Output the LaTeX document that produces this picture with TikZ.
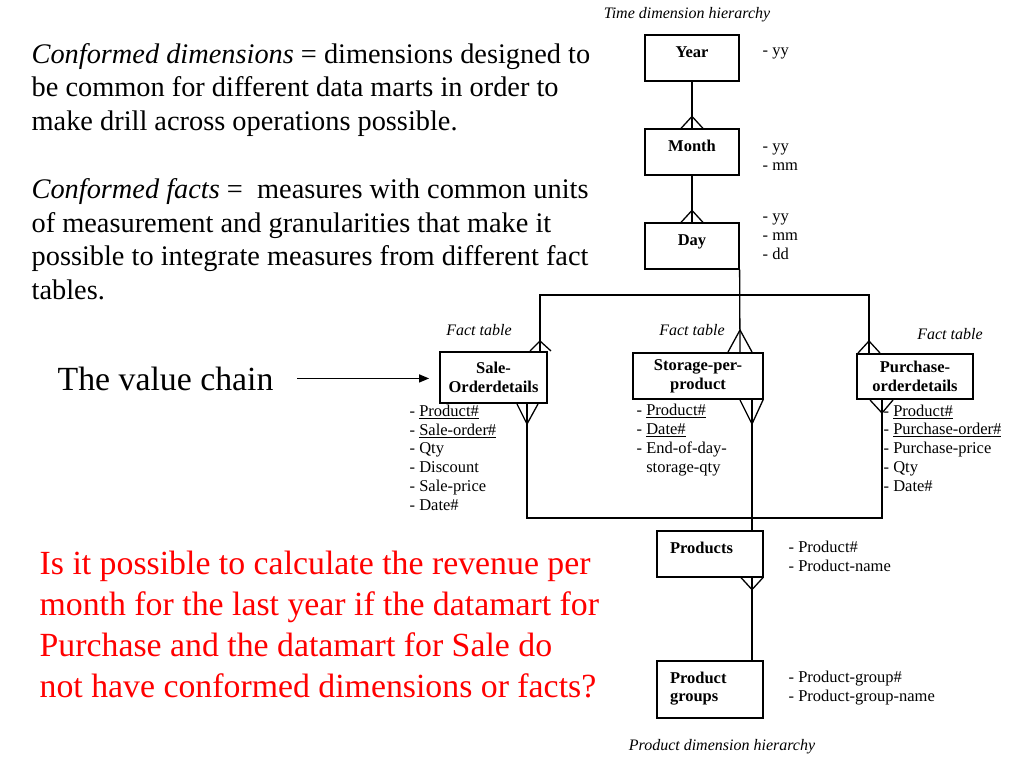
\documentclass[tikz,border=0pt]{standalone}
\usepackage{fontspec}
\setmainfont{Liberation Serif}
\usetikzlibrary{arrows}

\begin{document}
\begin{tikzpicture}[x=1pt,y=-1pt,node distance=94pt,>=stealth',line width=1.3pt]

  \tikzstyle{dimension}=[rectangle,draw=black,line width=1.2pt,minimum width=94pt,minimum height=46pt,text height=11pt,text depth=13pt,font=\fontsize{16.5}{18.7}\selectfont\bfseries]
  \tikzstyle{product}=[rectangle,draw=black,line width=1.2pt,text width=80pt,inner xsep=13pt,align=left,text height=11pt,font=\fontsize{16.5}{18.7}\selectfont\bfseries]
  \tikzstyle{fact}=[rectangle,draw=black,line width=2pt,align=center,font=\fontsize{16.5}{18.7}\selectfont\bfseries]
  \tikzstyle{attr}=[anchor=base west,inner sep=0pt,align=left,font=\fontsize{16.5}{18.7}\selectfont]
  \tikzstyle{caption}=[inner sep=0pt,font=\fontsize{16}{18}\selectfont\itshape]
  \tikzstyle{bigtext}=[anchor=base west,inner sep=0pt,align=left]

  \useasboundingbox (0,0) rectangle (1024,768);

  % left column (placed at the baseline of the last line)
  \node [bigtext,font=\fontsize{28.35}{33.5}\selectfont] (confdim) at (31,130)
    {\textit{Conformed dimensions} = dimensions designed to\\be common for different data marts in order to\\make drill across operations possible.};
  \node [bigtext,font=\fontsize{28.35}{33.5}\selectfont] (conffact) at (31,299)
    {\textit{Conformed facts} =~ measures with common units\\of measurement and granularities that make it\\possible to integrate measures from different fact\\tables.};
  \node [bigtext,font=\fontsize{33.8}{40}\selectfont] (chain) at (57,390) {The value chain};
  \node [bigtext,text=red,font=\fontsize{33.8}{40.7}\selectfont] (question) at (39,697)
    {Is it possible to calculate the revenue per\\month for the last year if the datamart for\\Purchase and the datamart for Sale do\\not have conformed dimensions or facts?};

  % time dimension
  \node [caption] (timecap) at (687,15) {Time dimension hierarchy};
  \node [dimension] (year) at (692,58) {Year};
  \node [dimension] (month) [below of=year] {Month};
  \node [dimension] (day) [below of=month] {Day};
  \node [attr] (yearattr) at (762,56) {- yy};
  \node [attr] (monthattr) at (762,170) {- yy\\- mm};
  \node [attr] (dayattr) at (762,259) {- yy\\- mm\\- dd};

  % fact tables
  \node [caption] (salecap) at (479,330) {Fact table};
  \node [caption] (storcap) at (692,330) {Fact table};
  \node [caption] (purchcap) at (950,334) {Fact table};
  \node [fact,minimum width=107pt,minimum height=51pt] (sale) at (493.5,377.5) {Sale-\\Orderdetails};
  \node [fact,minimum width=130pt,minimum height=46pt] (storage) at (698,376) {Storage-per-\\product};
  \node [fact,minimum width=116pt,minimum height=45pt] (purchase) at (915,376.5) {Purchase-\\orderdetails};
  \node [attr] (saleattr) at (409,510)
    {- \underline{Product\#}\\- \underline{Sale-order\#}\\- Qty\\- Discount\\- Sale-price\\- Date\#};
  \node [attr] (storattr) at (636,472)
    {- \underline{Product\#}\\- \underline{Date\#}\\- End-of-day-\\\hphantom{- }storage-qty};
  \node [attr] (purchattr) at (883,491)
    {- \underline{Product\#}\\- \underline{Purchase-order\#}\\- Purchase-price\\- Qty\\- Date\#};

  % product dimension
  \node [product,minimum height=46pt,text depth=13pt] (products) at (710,554) {Products};
  \node [product,minimum height=57pt,text depth=24pt] (groups) [below of=products,node distance=135.5pt] {Product\\groups};
  \node [attr] (prodattr) at (788,571) {- Product\#\\- Product-name};
  \node [attr] (groupattr) at (788,701) {- Product-group\#\\- Product-group-name};
  \node [caption] (prodcap) at (722,747) {Product dimension hierarchy};

  \coordinate (timehub) at (740,295);
  \coordinate (prodhub) at (752,518);
  \coordinate (saletop) at ([xshift=-8pt]sale.north east);
  \coordinate (stortop) at (timehub |- storage.north);
  \coordinate (purchtop) at ([xshift=13pt]purchase.north west);
  \coordinate (salebot) at ([xshift=-21pt]sale.south east);
  \coordinate (storbot) at ([xshift=-12pt]storage.south east);
  \coordinate (purchbot) at ([xshift=26pt]purchase.south west);
  \coordinate (prodfoot) at (storbot |- products.south);

  % time hierarchy
  \draw (year) -- (month);
  \draw ([xshift=-11pt]month.north) -- ++(11,-12) -- ++(11,12);
  \draw (month) -- (day);
  \draw ([xshift=-11pt]day.north) -- ++(11,-12) -- ++(11,12);
  \draw (day.south east) -- (stortop);
  \draw (saletop) |- (timehub) -| (purchtop);
  \draw ([xshift=-10pt]saletop) -- ++(10,-10) -- ++(11,10);
  \draw ([xshift=-12pt]stortop) -- ++(12,-22) -- ++(12,22);
  \draw ([xshift=-11pt]purchtop) -- ++(11,-12) -- ++(11,12);

  % product hierarchy
  \draw (salebot) |- (prodhub) -| (purchbot);
  \draw (storbot) -- (storbot |- products.north);
  \draw ([xshift=-10pt]salebot) -- ++(10,20) -- ++(11,-20);
  \draw ([xshift=-12pt]storbot) -- ++(12,24) -- ++(11,-24);
  \draw ([xshift=-12pt]purchbot) -- ++(12,13) -- ++(11,-13);
  \draw (prodfoot) -- (prodfoot |- groups.north);
  \draw ([xshift=-11pt]prodfoot) -- ++(11,12) -- ++(11,-12);

  \draw [-triangle 45,shorten >=10pt] ([xshift=23pt]chain.east) -- (chain.east -| sale.west);
\end{tikzpicture}
\end{document}
